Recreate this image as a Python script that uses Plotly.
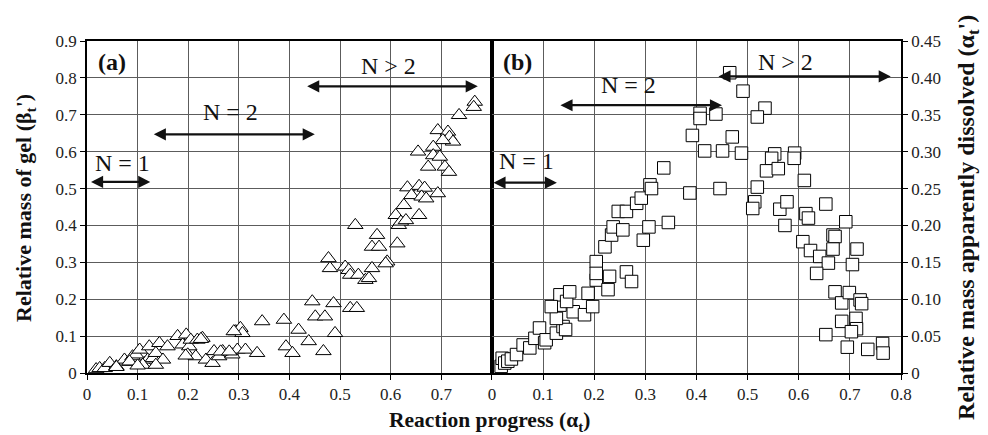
import plotly.graph_objects as go

# ---------------- data ----------------
# (a) relative mass of gel (beta_t') vs reaction progress (alpha_t)
tri_x = [0.018, 0.025, 0.035, 0.045, 0.058, 0.074, 0.084, 0.09, 0.097, 0.104, 0.113, 0.12,
         0.123, 0.13, 0.136, 0.143, 0.15, 0.159, 0.179, 0.189, 0.196, 0.202, 0.205, 0.199,
         0.215, 0.218, 0.228, 0.235, 0.248, 0.251, 0.261, 0.268, 0.287, 0.294, 0.297, 0.303,
         0.307, 0.313, 0.336, 0.346, 0.389, 0.393, 0.406, 0.418, 0.438, 0.445, 0.451, 0.467,
         0.47, 0.487, 0.49, 0.52, 0.533, 0.477, 0.48, 0.51, 0.517, 0.52, 0.536, 0.55, 0.557,
         0.563, 0.53, 0.563, 0.573, 0.577, 0.593, 0.59, 0.613, 0.61, 0.616, 0.62, 0.63, 0.626,
         0.656, 0.766, 0.764, 0.735, 0.693, 0.713, 0.716, 0.723, 0.703, 0.654, 0.684, 0.684,
         0.697, 0.674, 0.707, 0.715, 0.633, 0.656, 0.667, 0.641, 0.661, 0.67, 0.693,
         0.11, 0.136, 0.195, 0.264, 0.281, 0.29, 0.225, 0.058, 0.084, 0.1]
tri_y = [0.01, 0.013, 0.013, 0.027, 0.018, 0.036, 0.03, 0.045, 0.05, 0.063, 0.027, 0.036,
         0.072, 0.04, 0.054, 0.081, 0.036, 0.072, 0.1, 0.077, 0.104, 0.072, 0.09, 0.05,
         0.045, 0.09, 0.095, 0.036, 0.027, 0.059, 0.045, 0.059, 0.05, 0.113, 0.063, 0.122,
         0.108, 0.063, 0.054, 0.14, 0.144, 0.072, 0.054, 0.117, 0.086, 0.194, 0.153, 0.059,
         0.153, 0.189, 0.108, 0.176, 0.176, 0.311, 0.284, 0.288, 0.279, 0.266, 0.266, 0.252, 0.257,
         0.284, 0.401, 0.342, 0.374, 0.342, 0.302, 0.297, 0.351, 0.428, 0.401, 0.41, 0.414, 0.455,
         0.428, 0.735, 0.721, 0.699, 0.658, 0.654, 0.64, 0.627, 0.631, 0.6, 0.613, 0.59,
         0.586, 0.559, 0.559, 0.545, 0.503, 0.507, 0.502, 0.482, 0.478, 0.473, 0.487,
         0.022, 0.022, 0.047, 0.058, 0.058, 0.113, 0.092, 0.016, 0.031, 0.02]

# (b) relative mass apparently dissolved (alpha_t') vs reaction progress (alpha_t)
sq_x = [0.018, 0.02, 0.025, 0.031, 0.038, 0.048, 0.061, 0.074, 0.084, 0.093, 0.103, 0.106,
        0.126, 0.139, 0.144, 0.126, 0.159, 0.181, 0.197, 0.133, 0.133, 0.146, 0.152, 0.116,
        0.188, 0.204, 0.227, 0.23, 0.204, 0.204, 0.263, 0.273, 0.221, 0.234, 0.296, 0.307,
        0.237, 0.256, 0.247, 0.263, 0.283, 0.345, 0.292, 0.309, 0.312, 0.336, 0.387, 0.446,
        0.392, 0.407, 0.407, 0.438, 0.416, 0.451, 0.47, 0.465, 0.491, 0.534, 0.519, 0.488,
        0.553, 0.547, 0.592, 0.591, 0.537, 0.56, 0.611, 0.519, 0.514, 0.51, 0.563, 0.577,
        0.614, 0.619, 0.653, 0.573, 0.692, 0.667, 0.671, 0.608, 0.623, 0.641, 0.658, 0.667,
        0.635, 0.714, 0.705, 0.671, 0.684, 0.699, 0.72, 0.723, 0.684, 0.712, 0.713, 0.703,
        0.653, 0.695, 0.735, 0.764, 0.765]
sq_y = [0.009, 0.02, 0.0135, 0.016, 0.019, 0.025, 0.038, 0.034, 0.047, 0.061, 0.041, 0.045,
        0.054, 0.063, 0.059, 0.074, 0.083, 0.079, 0.09, 0.092, 0.106, 0.097, 0.11, 0.09,
        0.108, 0.126, 0.113, 0.131, 0.151, 0.135, 0.137, 0.124, 0.171, 0.187, 0.18, 0.198,
        0.198, 0.194, 0.219, 0.219, 0.23, 0.204, 0.237, 0.255, 0.25, 0.278, 0.244, 0.25,
        0.322, 0.352, 0.345, 0.351, 0.301, 0.301, 0.32, 0.407, 0.382, 0.359, 0.347, 0.298,
        0.297, 0.291, 0.298, 0.291, 0.274, 0.277, 0.261, 0.252, 0.232, 0.223, 0.222, 0.232,
        0.216, 0.21, 0.229, 0.2, 0.205, 0.187, 0.185, 0.178, 0.166, 0.158, 0.149, 0.168,
        0.135, 0.168, 0.147, 0.11, 0.095, 0.109, 0.099, 0.094, 0.07, 0.074, 0.06, 0.056,
        0.052, 0.035, 0.032, 0.04, 0.027]

left_xticks = [0, 0.1, 0.2, 0.3, 0.4, 0.5, 0.6, 0.7]
left_xtick_text = ["0", "0.1", "0.2", "0.3", "0.4", "0.5", "0.6", "0.7"]
right_xticks = [0, 0.1, 0.2, 0.3, 0.4, 0.5, 0.6, 0.7, 0.8]
right_xtick_text = ["0", "0.1", "0.2", "0.3", "0.4", "0.5", "0.6", "0.7", "0.8"]
left_yticks = [0, 0.1, 0.2, 0.3, 0.4, 0.5, 0.6, 0.7, 0.8, 0.9]
left_ytick_text = ["0", "0.1", "0.2", "0.3", "0.4", "0.5", "0.6", "0.7", "0.8", "0.9"]
right_yticks = [0, 0.05, 0.1, 0.15, 0.2, 0.25, 0.3, 0.35, 0.4, 0.45]
right_ytick_text = ["0", "0.05", "0.10", "0.15", "0.20", "0.25", "0.30", "0.35", "0.40", "0.45"]

# region labels: (text, text_x, text_y, arrow_x0, arrow_x1, arrow_y)
regions_a = [("N = 1", 0.071, 0.570, 0.005, 0.125, 0.518),
             ("N = 2", 0.283, 0.707, 0.129, 0.450, 0.647),
             ("N > 2", 0.595, 0.833, 0.432, 0.772, 0.777)]
regions_b = [("N = 1", 0.067, 0.287, 0.000, 0.127, 0.258),
             ("N = 2", 0.268, 0.391, 0.131, 0.450, 0.363),
             ("N > 2", 0.575, 0.421, 0.440, 0.780, 0.402)]

# ---------------- figure ----------------
FONT = "Liberation Serif"
GRID = "#5c5c5c"

fig = go.Figure()
fig.add_trace(go.Scatter(
    x=tri_x, y=tri_y, mode="markers", xaxis="x", yaxis="y",
    marker=dict(symbol="triangle-up", size=13.5, color="white",
                line=dict(color="black", width=1)),
    showlegend=False, cliponaxis=False))
fig.add_trace(go.Scatter(
    x=sq_x, y=sq_y, mode="markers", xaxis="x2", yaxis="y2",
    marker=dict(symbol="square", size=12.5, color="white",
                line=dict(color="black", width=1)),
    showlegend=False, cliponaxis=False))

axis_common = dict(showline=True, linecolor="black", linewidth=1.5, mirror=True,
                   showgrid=True, gridcolor=GRID, gridwidth=1, zeroline=False,
                   ticks="outside", ticklen=5, tickcolor="black",
                   tickfont=dict(family=FONT, size=17, color="#222"))

ann = []
for (t, tx, ty, x0, x1, ay), xr, yr in [(r, "x", "y") for r in regions_a] + [(r, "x2", "y2") for r in regions_b]:
    ann.append(dict(x=x1, y=ay, ax=x0, ay=ay, xref=xr, yref=yr, axref=xr, ayref=yr,
                    text="", showarrow=True, arrowhead=2, arrowside="end+start",
                    arrowsize=1.1, arrowwidth=2.2, arrowcolor="#111",
                    standoff=0, startstandoff=0))
    ann.append(dict(x=tx, y=ty, xref=xr, yref=yr, text=t, showarrow=False,
                    xanchor="center", yanchor="middle",
                    font=dict(family=FONT, size=24, color="#111")))

ann.append(dict(x=0.05, y=0.842, xref="x", yref="y", text="<b>(a)</b>", showarrow=False,
                font=dict(family=FONT, size=24, color="#111")))
ann.append(dict(x=0.05, y=0.421, xref="x2", yref="y2", text="<b>(b)</b>", showarrow=False,
                font=dict(family=FONT, size=24, color="#111")))

ann.append(dict(x=-0.0762, y=0.497, xref="paper", yref="paper", textangle=-90,
                text="<b>Relative mass of gel (β<sub>t</sub>')</b>", showarrow=False,
                xanchor="center", yanchor="middle",
                font=dict(family=FONT, size=22, color="#111")))
ann.append(dict(x=1.0823, y=0.47, xref="paper", yref="paper", textangle=-90,
                text="<b>Relative mass apparently dissolved (α<sub>t</sub>')</b>", showarrow=False,
                xanchor="center", yanchor="middle",
                font=dict(family=FONT, size=24, color="#111")))
ann.append(dict(x=0.495, y=-0.1466, xref="paper", yref="paper",
                text="<b>Reaction progress (α<sub>t</sub>)</b>", showarrow=False,
                xanchor="center", yanchor="middle",
                font=dict(family=FONT, size=21.5, color="#111")))

fig.update_layout(
    width=988, height=435,
    margin=dict(l=87, r=87, t=41, b=62),
    paper_bgcolor="white", plot_bgcolor="white",
    xaxis=dict(domain=[0, 0.4975], range=[0, 0.8], tickvals=left_xticks,
               ticktext=left_xtick_text, anchor="y", **axis_common),
    yaxis=dict(domain=[0, 1], range=[0, 0.9], tickvals=left_yticks,
               ticktext=left_ytick_text, anchor="x", **axis_common),
    xaxis2=dict(domain=[0.4975, 1], range=[0, 0.8], tickvals=right_xticks,
                ticktext=right_xtick_text, anchor="y2", **axis_common),
    yaxis2=dict(domain=[0, 1], range=[0, 0.45], tickvals=right_yticks,
                ticktext=right_ytick_text, anchor="x2", side="right", **axis_common),
    annotations=ann,
)

# remove the default 8px page margin so the 988x435 figure fills the window exactly
fig.write_html("out.html", config={"displayModeBar": False},
               post_script="document.body.style.margin='0';document.body.style.overflow='hidden';")
